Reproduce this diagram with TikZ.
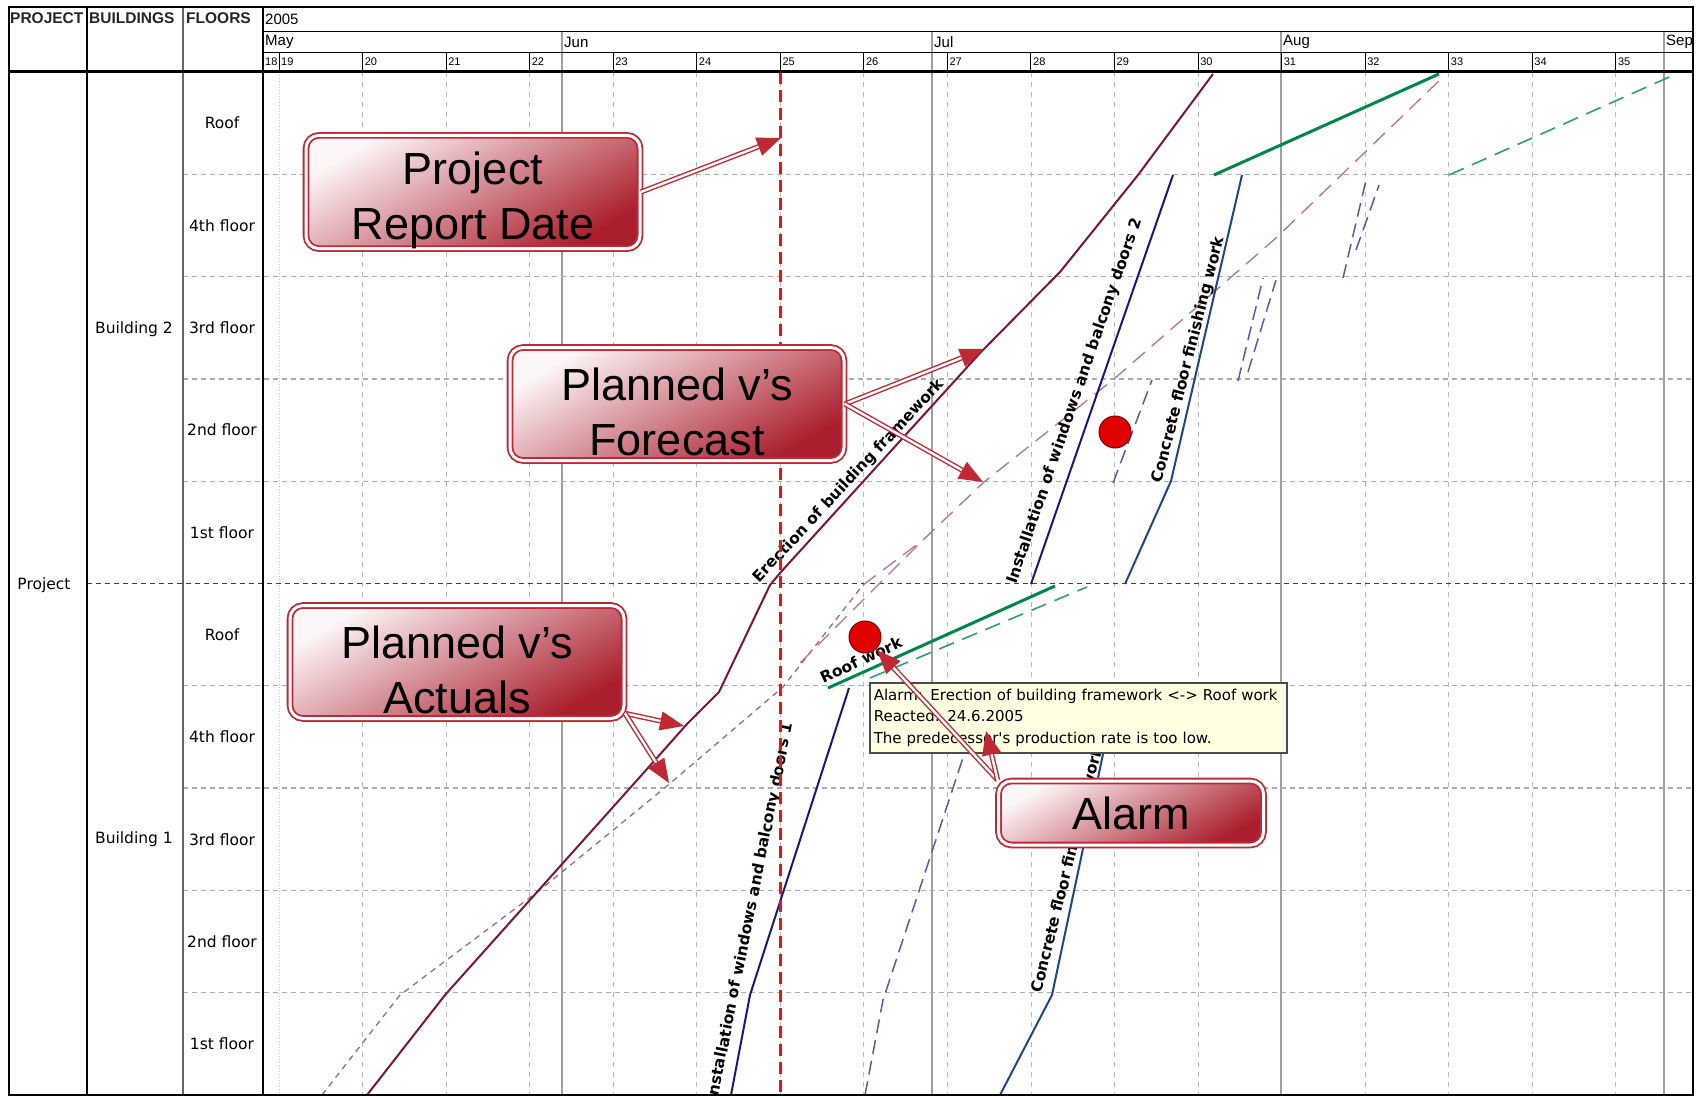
\documentclass[tikz,border=0pt]{standalone}
\usepackage{fontspec}
\setsansfont{Liberation Sans}
\newfontfamily\chartfont{DejaVu Sans}
\usepackage{xcolor}
\usetikzlibrary{arrows.meta}
\usetikzlibrary{positioning}

\definecolor{cRed}{RGB}{192,40,52}
\definecolor{cLite}{RGB}{253,246,247}
\definecolor{cDeep}{RGB}{170,30,45}
\definecolor{cFrame}{RGB}{122,22,62}
\definecolor{cPlan}{RGB}{150,110,125}
\definecolor{cFore}{RGB}{185,115,135}
\definecolor{cWin}{RGB}{25,25,125}
\definecolor{cCon}{RGB}{30,70,140}
\definecolor{cDash}{RGB}{90,90,170}
\definecolor{cRoof}{RGB}{0,135,70}
\definecolor{cTip}{RGB}{255,255,225}
\definecolor{cDate}{RGB}{235,20,20}
\definecolor{cDot}{RGB}{225,0,0}

\begin{document}
\begin{tikzpicture}[x=1pt, y=-1pt]

        \def\rowh{102.3}
        \def\wk{83.55}
        \def\up{\rule{0pt}{49pt}}

        % Styles of the grid, the activity lines and the callouts
        \tikzset{
            head/.style={anchor=west, inner sep=1pt, text=black!85,
                font=\sffamily\bfseries\fontsize{15.5}{17}\selectfont},
            month/.style={anchor=west, inner sep=1pt,
                font=\sffamily\fontsize{15}{17}\selectfont},
            weeknum/.style={anchor=west, inner sep=1pt,
                font=\sffamily\fontsize{11}{12}\selectfont},
            rowlab/.style={inner sep=1pt,
                font=\chartfont\fontsize{15.5}{17}\selectfont},
            actlab/.style={inner sep=1pt,
                font=\chartfont\bfseries\fontsize{15.5}{17}\selectfont},
            gridweek/.style={gray!55, line width=0.9pt, dash pattern=on 5pt off 5pt},
            gridmonth/.style={gray!75, line width=1.3pt},
            gridfloor/.style={gray!65, line width=1.3pt, dash pattern=on 5pt off 4pt},
            actual/.style={cFrame, line width=2pt, line join=round},
            planned/.style={cPlan, line width=1.3pt, dash pattern=on 6pt off 5pt},
            forecast/.style={cFore, line width=1.3pt, dash pattern=on 16pt off 9pt},
            windows/.style={cWin, line width=2pt, line join=round},
            concrete/.style={cCon, line width=2pt, line join=round},
            fcast/.style={cDash, line width=1.5pt, dash pattern=on 14pt off 7pt},
            roof/.style={cRoof, line width=3pt},
            roofplan/.style={cRoof!80, line width=1.6pt, dash pattern=on 16pt off 9pt},
            datebar/.style={cDate, line width=3pt, dash pattern=on 12pt off 6pt},
            alarmdot/.style={circle, fill=cDot, draw=cDot!55!black, line width=1pt,
                minimum size=32pt, inner sep=0pt},
            tooltip/.style={draw=black!70, fill=cTip, line width=1.5pt, anchor=north west,
                align=left, text width=409pt, inner xsep=4pt, inner ysep=3pt,
                minimum height=70pt, font=\chartfont\fontsize{15}{21.5}\selectfont},
            callout/.style={draw=cRed, double=white, double distance=3pt, line width=1.8pt,
                rounded corners=13pt, top color=cLite, bottom color=cDeep, shading angle=30,
                align=center, inner sep=0pt, minimum width=334pt, minimum height=113pt,
                font=\sffamily\fontsize{45}{55}\selectfont},
            callarrow/.style={cRed, double=white, double distance=2.4pt, line width=1.4pt,
                -{Triangle[length=24pt, width=19pt]}}
        }

        \fill[white] (0,0) rectangle (1696,1097);
        \useasboundingbox (0,0) rectangle (1696,1097);

        \begin{scope}
            \clip (9,7) rectangle (1693,1095);

            % Grid of weeks, months and floors
            \draw[gray!50, dotted, line width=1pt] (279,72) -- (279,1095);
            \foreach \k in {20,...,35}
            \draw[gridweek] ({279+(\k-19)*\wk},72) -- ({279+(\k-19)*\wk},1095);
            \foreach \x in {562,932,1281,1664}
            \draw[gridmonth] (\x,32) -- (\x,1095);
            \foreach \j in {1,2,3,4,6,7,8,9}
            \draw[gridfloor] (183,{72+\j*\rowh}) -- (1693,{72+\j*\rowh});
            \draw[black!75, line width=1.6pt, dash pattern=on 5pt off 4pt]
                (87,{72+5*\rowh}) -- (1693,{72+5*\rowh});

            % Header
            \draw[line width=1pt] (263,32) -- (1693,32);
            \draw[line width=1pt] (263,53) -- (1693,53);
            \foreach \k in {19,...,35}
            \draw[line width=1pt] ({279+(\k-19)*\wk},53) -- ({279+(\k-19)*\wk},72);
            \node[head] (hProject) at (9,18) {PROJECT};
            \node[head] (hBuildings) at (88,18) {BUILDINGS};
            \node[head] (hFloors) at (185,18) {FLOORS};
            \node[month] (hYear) at (264,19) {2005};
            \foreach \m/\x in {May/264,Jun/563,Jul/933,Aug/1282,Sep/1665}
            \node[month] (m\m) at (\x,42) {\m};
            \node[weeknum] (w18) at (264,62) {18};
            \foreach \k in {19,...,35}
            \node[weeknum] (w\k) at ({280+(\k-19)*\wk},62) {\k};

            % Rows
            \foreach \f [count=\i] in {Roof, 4th floor, 3rd floor, 2nd floor, 1st floor}
            {
                \node[rowlab] (bTwo\i) at (222,{72+(\i-0.5)*\rowh}) {\f};
                \node[rowlab] (bOne\i) at (222,{72+(\i+4.5)*\rowh}) {\f};
            }
            \node[rowlab] (bldTwo) at (134,329) {Building 2};
            \node[rowlab] (bldOne) at (134,839) {Building 1};
            \node[rowlab] (proj) at (44,585) {Project};
        \end{scope}

        % Scope used to keep the activity lines inside the chart
        \begin{scope}
            \clip (264,73) rectangle (1692,1094);

            \draw[planned] (322,1095) -- (400,995) -- (540,890) -- (667,786)
                -- (783,687) -- (863,585);
            \draw[forecast] (863,585) -- (923,540) -- (984,482) -- (1114,379)
                -- (1276,238) -- (1444,76);
            \draw[forecast] (800,663) -- (923,540);
            \draw[actual] (367,1095) -- (445,995) -- (647,769) -- (687,724)
                -- (719,692) -- (770,585) -- (780,573) -- (980,353) -- (1060,272)
                -- (1138,175) -- (1213,74);

            \draw[windows] (731,1095) -- (750,995) -- (849,688);
            \draw[windows] (1031,584) -- (1173,175);
            \draw[concrete] (1000,1095) -- (1052,995) -- (1117,688);
            \draw[concrete] (1125,584) -- (1171,481) -- (1242,175);

            \draw[fcast] (865,1095) -- (883,1000) -- (986,688);
            \draw[fcast] (1113,483) -- (1152,380);
            \draw[fcast] (1238,381) -- (1263,278);
            \draw[fcast] (1248,372) -- (1276,280);
            \draw[fcast] (1343,278) -- (1367,176);
            \draw[fcast] (1356,250) -- (1379,185);

            \draw[roofplan] (870,678) -- (1087,587);
            \draw[roofplan] (1449,175) -- (1676,74);
            \draw[roof] (828,688) -- (1055,586);
            \draw[roof] (1214,175) -- (1439,74);

            \node[actlab, rotate=47] (lErect) at (849,481) {Erection of building framework};
            \node[actlab, rotate=71] (lWinTwo) at (1075,401)
                {Installation of windows and balcony doors 2};
            \node[actlab, rotate=75.7] (lConTwo) at (1189,360) {Concrete floor finishing work};
            \node[actlab, rotate=78.7] (lWinOne) at (751,912)
                {Installation of windows and balcony doors 1};
            \node[actlab, rotate=76] (lConOne) at (1068,870) {Concrete floor finishing work};
            \node[actlab, rotate=25] (lRoof) at (861,660) {Roof work};

            \draw[datebar] (780,72) -- (780,1095);

            \node[alarmdot] (dotTwo) at (1115,432) {};
            \node[alarmdot] (dotOne) at (865,637) {};
        \end{scope}

        % Frame and column lines
        \draw[line width=1.2pt] (87,7) -- (87,1095);
        \draw[black!60, line width=2pt] (183,7) -- (183,1095);
        \draw[line width=2.5pt] (263,7) -- (263,1095);
        \draw[line width=3pt] (9,72) -- (1693,72);
        \draw[line width=1.6pt] (9,7) rectangle (1693,1095);

        \node[tooltip] (tip) at (869,682)
            {Alarm: Erection of building framework <-> Roof work\\
             Reacted: 24.6.2005\\
             The predecessor's production rate is too low.};

        % Callouts
        \node[callout] (rep) at (473,192) {\up Project\\Report Date};
        \node[callout] (pvf) at (677,404) {\up Planned v’s\\Forecast};
        \node[callout] (pva) at (457,662) {\up Planned v’s\\Actuals};
        \node[callout, minimum width=265pt, minimum height=64pt] (alm) at (1131,813) {Alarm};

        \coordinate (tRep) at (781,138);
        \coordinate (tPvfA) at (984,349);
        \coordinate (tPvfB) at (983,482);
        \coordinate (tPvaA) at (684,726);
        \coordinate (tPvaB) at (669,783);
        \coordinate (tAlmA) at (877,650);
        \coordinate (tAlmB) at (986,731);

        \begin{scope}
            \draw[callarrow] (rep.east) -- (tRep);
            \draw[callarrow] (pvf.east) -- (tPvfA);
            \draw[callarrow] (pvf.east) -- (tPvfB);
            \draw[callarrow] (pva.-17) -- (tPvaA);
            \draw[callarrow] (pva.-17) -- (tPvaB);
            \draw[callarrow] (alm.north west) -- (tAlmA);
            \draw[callarrow] (alm.north west) -- (tAlmB);
        \end{scope}

\end{tikzpicture}
\end{document}
